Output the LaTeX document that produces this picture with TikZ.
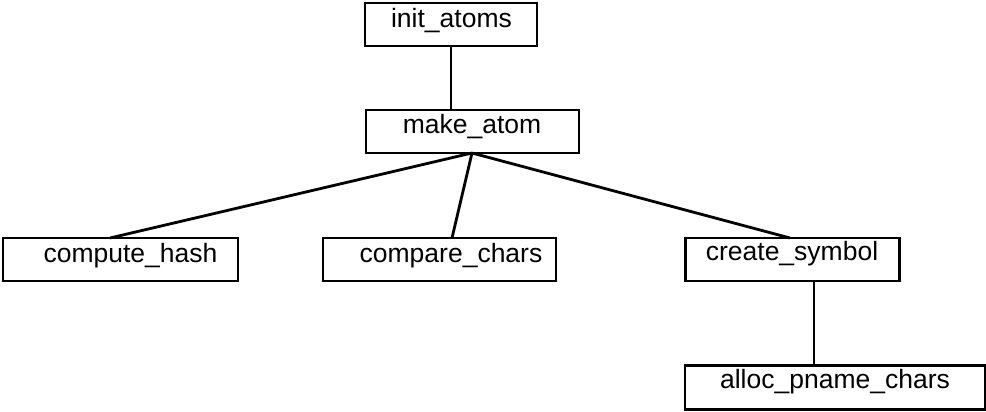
\documentclass[tikz,border=0pt]{standalone}
\usepackage{fontspec}
\setmainfont{Liberation Sans}
\begin{document}
\begin{tikzpicture}[x=1pt,y=-1pt,
  box/.style={draw, line width=2.8pt, inner sep=0pt, outer sep=0pt},
  lbl/.style={anchor=base, inner sep=0pt, font=\fontsize{26.5}{31}\selectfont},
  conn/.style={line width=2.8pt}]
\useasboundingbox (0,0) rectangle (986,412);
% boxes
\node[box, minimum width=172pt, minimum height=43pt] (ia) at (451,24.5) {};
\node[box, minimum width=213pt, minimum height=43pt] (ma) at (472.5,131.5) {};
\node[box, minimum width=235pt, minimum height=43pt] (ch) at (120.5,259.5) {};
\node[box, minimum width=233pt, minimum height=43pt] (cc) at (439.5,259.5) {};
\node[box, minimum width=214pt, minimum height=43pt] (cs) at (792.5,259.5) {};
\node[box, minimum width=300pt, minimum height=44pt] (ap) at (835,387.5) {};
% labels
\node[lbl] (iat) at (451.5,27.5) {init\_atoms};
\node[lbl] (mat) at (472,133.5) {make\_atom};
\node[lbl] (cht) at (130.5,262.5) {compute\_hash};
\node[lbl] (cct) at (451,262.5) {compare\_chars};
\node[lbl] (cst) at (792,260.5) {create\_symbol};
\node[lbl] (apt) at (835,388.5) {alloc\_pname\_chars};
% connectors
\coordinate (ma-b) at (472,153);
\draw[conn] (ia.south) -- (ma.north -| ia.south);
\draw[conn] (ma-b) -- (ch.north -| 110,0);
\draw[conn] (ma-b) -- (cc.north -| 452,0);
\draw[conn] (ma-b) -- (cs.north -| 790,0);
\draw[conn] (cs.south -| 814,0) -- (ap.north -| 814,0);
\end{tikzpicture}
\end{document}
